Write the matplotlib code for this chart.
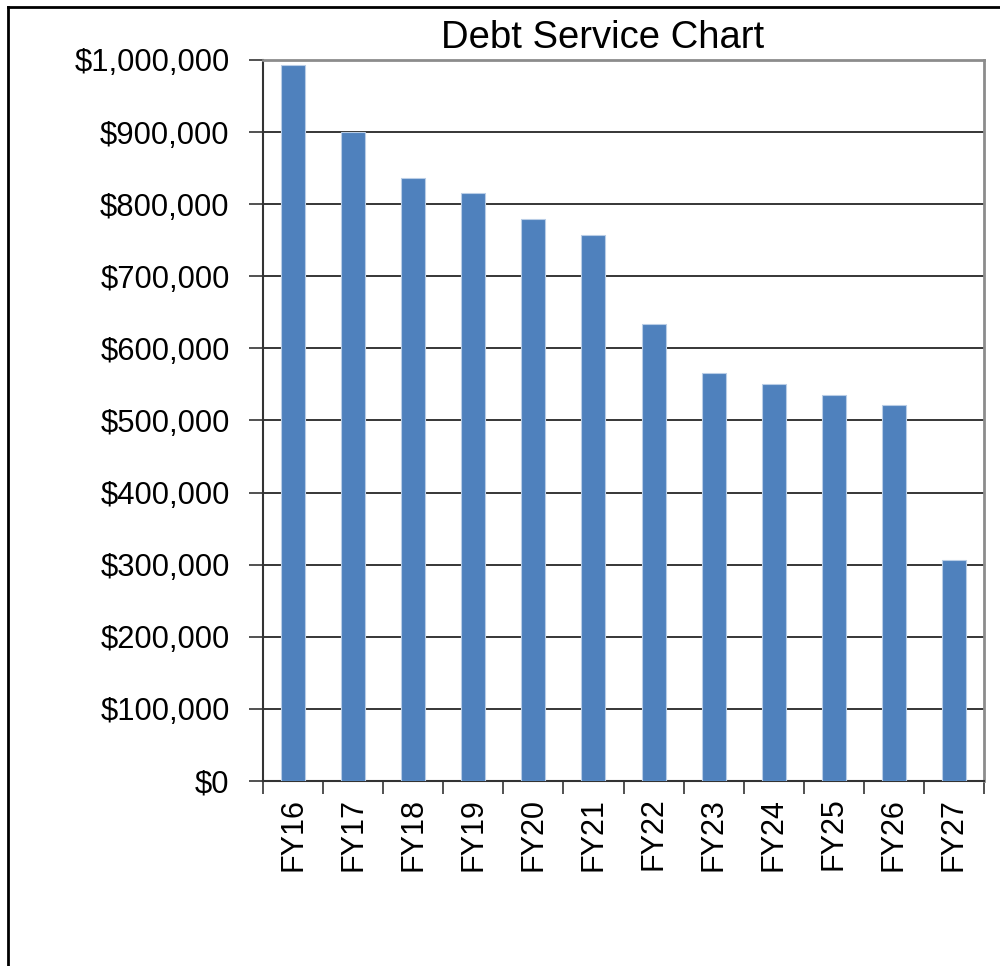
import numpy as np
import matplotlib.pyplot as plt
from matplotlib.ticker import FuncFormatter
from matplotlib.lines import Line2D

# Data
years = ["FY16", "FY17", "FY18", "FY19", "FY20", "FY21",
         "FY22", "FY23", "FY24", "FY25", "FY26", "FY27"]
debt_service = [993000, 900000, 837000, 815000, 780000, 757000,
                634000, 566000, 551000, 535000, 521000, 307000]

plt.rcParams['font.family'] = ['Liberation Sans', 'DejaVu Sans']

fig = plt.figure(figsize=(10, 9.66), dpi=100)
ax = fig.add_axes([0.263, 0.1915, 0.721, 0.7464])

x = np.arange(len(years))
ax.bar(x, debt_service, width=0.4, color='#4f81bd', edgecolor='#b9cde6',
       linewidth=0.8, zorder=3)

ax.set_xlim(-0.5, len(years) - 0.5)
ax.set_ylim(0, 1000000)
ax.set_yticks(np.arange(0, 1000001, 100000))
ax.yaxis.set_major_formatter(FuncFormatter(lambda v, p: f"${v:,.0f}"))
ax.grid(axis='y', color='black', linewidth=1.1, zorder=1)

# category labels at centres, tick marks at boundaries
ax.set_xticks(x)
ax.set_xticklabels(years, rotation=90)
ax.set_xticks(np.arange(-0.5, len(years)), minor=True)
ax.tick_params(axis='x', which='major', length=0, pad=12, labelsize=22)
ax.tick_params(axis='x', which='minor', length=9, width=1.2, color='#333333')
ax.tick_params(axis='y', length=10, width=1.2, color='#333333', pad=14,
               labelsize=22.3)

for side in ['top', 'right']:
    ax.spines[side].set_color('#8c8c8c')
    ax.spines[side].set_linewidth(2)
for side in ['left', 'bottom']:
    ax.spines[side].set_color('#333333')
    ax.spines[side].set_linewidth(1.5)

fig.text(0.603, 0.961, "Debt Service Chart", ha='center', va='center',
         fontsize=27.5)

# outer chart frame (left and top edges visible)
fig.add_artist(Line2D([0.0075, 0.0075], [0, 0.9925], color='black', linewidth=2))
fig.add_artist(Line2D([0.0075, 1.0], [0.9925, 0.9925], color='black', linewidth=2))

plt.savefig("out.png", dpi=100)
